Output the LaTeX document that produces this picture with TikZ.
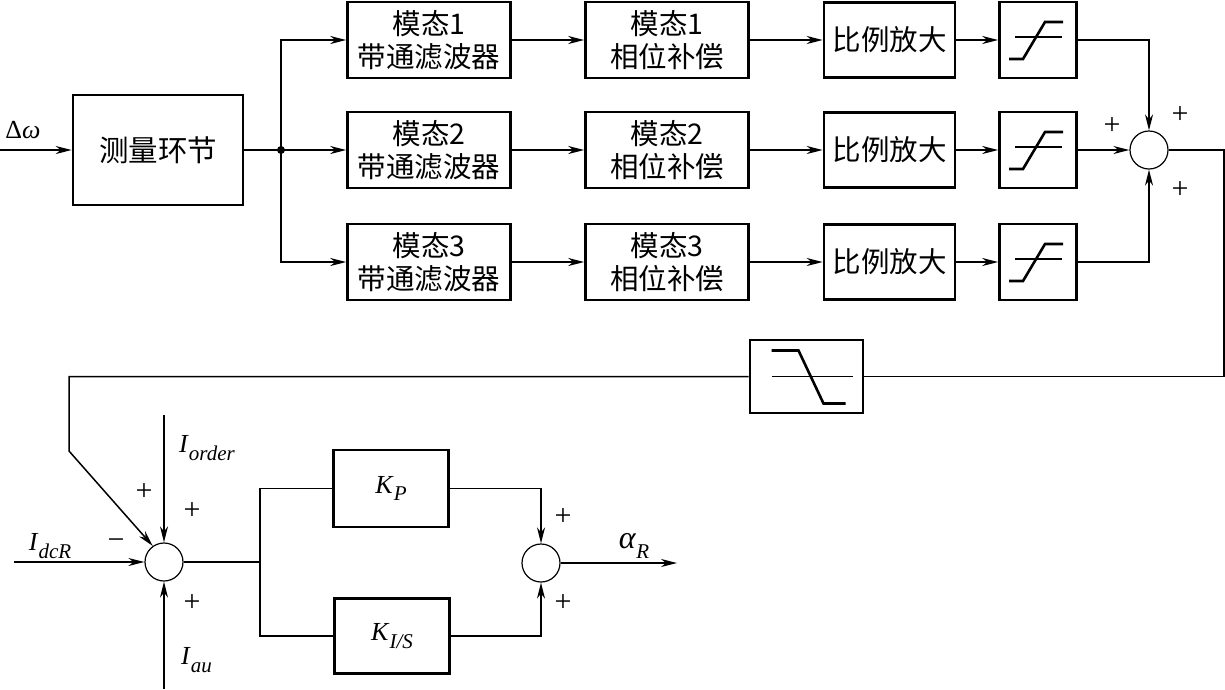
\documentclass[tikz,border=0pt]{standalone}
\usepackage{fontspec}
\newfontfamily\cjk{Noto Sans CJK SC}
\newfontfamily\tms{Liberation Serif}
\usetikzlibrary{arrows.meta,calc}
\newcommand{\vlab}[2]{\textit{#1}\raisebox{-0.3em}{\fontsize{21}{21}\selectfont\textit{#2}}}
\begin{document}
\begin{tikzpicture}[x=1pt,y=-1pt,
  blk/.style={draw,line width=2.6pt,inner sep=0pt,align=center,font=\cjk\fontsize{28.5}{37}\selectfont},
  sumc/.style={draw,circle,line width=1.2pt,minimum size=38pt,inner sep=0pt},
  conn/.style={line width=1.5pt},
  arr/.style={conn,-{Stealth[length=16pt,width=8pt,inset=5pt]}},
  sgn/.style={font=\tms\fontsize{30}{30}\selectfont,inner sep=0pt},
  lbl/.style={font=\tms\fontsize{26}{26}\selectfont,inner sep=0pt},
  icothick/.style={line width=2.6pt},
  icothin/.style={line width=1.2pt}]
\useasboundingbox (0,0) rectangle (1225,689);

% measurement
\node[blk,minimum width=170pt,minimum height=110pt,font=\cjk\fontsize{29.5}{30}\selectfont] (meas) at (158,150) {测量环节};
\coordinate (in) at (0,150);
\draw[arr] (in) -- (meas.west);
\node[lbl] (dw) at (23,130) {Δ\textit{ω}};
\coordinate (j) at (281,150);
\draw[conn] (meas.east) -- (j);
\fill (j) circle (4pt);

% rows
\foreach \r/\y in {1/40,2/150,3/262}{
  \node[blk,minimum width=163pt,minimum height=76pt] (bp\r) at (429,\y) {模态\r\\[-4pt]带通滤波器};
  \node[blk,minimum width=163pt,minimum height=76pt] (ph\r) at (667,\y) {模态\r\\[-4pt]相位补偿};
  \node[blk,minimum width=131pt,minimum height=75pt] (g\r) at (889.5,\y) {比例放大};
  \node[blk,minimum width=77pt,minimum height=76pt] (lim\r) at (1038,\y) {};
  \draw[icothin] ($(lim\r.center)+(-23,-3)$) -- ($(lim\r.center)+(24,-3)$);
  \draw[icothick] ($(lim\r.center)+(-29,19)$) -- ($(lim\r.center)+(-15,19)$) -- ($(lim\r.center)+(7,-18)$) -- ($(lim\r.center)+(25,-18)$);
  \draw[arr] (bp\r.east) -- (ph\r.west);
  \draw[arr] (ph\r.east) -- (g\r.west);
  \draw[arr] (g\r.east) -- (lim\r.west);
}
\draw[arr] (j) |- (bp1.west);
\draw[arr] (j) -- (bp2.west);
\draw[arr] (j) |- (bp3.west);

% sum 1
\node[sumc] (s1) at (1149,150) {};
\draw[arr] (lim1.east) -| (s1.north);
\draw[arr] (lim2.east) -- (s1.west);
\draw[arr] (lim3.east) -| (s1.south);
\node[sgn] (p1a) at (1112,126) {+};
\node[sgn] (p1b) at (1180,115) {+};
\node[sgn] (p1c) at (1180,190) {+};

% filter
\node[blk,minimum width=113pt,minimum height=73pt] (filt) at (806.5,376.5) {};
\draw[icothin] ($(filt.center)+(-35,0)$) -- ($(filt.center)+(46,0)$);
\draw[icothick] ($(filt.center)+(-35,-26)$) -- ($(filt.center)+(-8,-26)$) -- ($(filt.center)+(17,27)$) -- ($(filt.center)+(39,27)$);
\coordinate (fr1) at (1224,150);
\coordinate (fr2) at (1224,376.5);
\draw[conn] (s1.east) -- (fr1) -- (fr2) -- (filt.east);
\coordinate (fl1) at (69,376.5);
\coordinate (fl2) at (69,451);

% sum 2
\node[sumc] (s2) at (164,562) {};
\draw[arr] (filt.west) -- (fl1) -- (fl2) -- (s2.125);
\coordinate (ord) at (164,415);
\coordinate (idc) at (14,562);
\coordinate (iau) at (164,689);
\draw[arr] (ord) -- (s2.north);
\draw[arr] (idc) -- (s2.west);
\draw[arr] (iau) -- (s2.south);
\node[lbl,anchor=west] (lo) at (179,448) {\vlab{I}{order}};
\node[lbl] (ld) at (50,546) {\vlab{I}{dcR}};
\node[lbl,anchor=west] (la) at (181,660) {\vlab{I}{au}};
\node[sgn] (m2) at (116,544) {−};
\node[sgn] (p2a) at (144,492) {+};
\node[sgn] (p2b) at (192,511) {+};
\node[sgn] (p2c) at (192,603) {+};

% PI branches
\coordinate (sp) at (260,562);
\node[blk,minimum width=115pt,minimum height=77pt,font=\tms\fontsize{26}{26}\selectfont] (kp) at (391,488.5) {\vlab{K}{P}};
\node[blk,minimum width=115pt,minimum height=75pt,font=\tms\fontsize{26}{26}\selectfont] (ki) at (392,636) {\vlab{K}{I/S}};
\draw[conn] (s2.east) -- (sp);
\draw[conn] (sp) |- (kp.west);
\draw[conn] (sp) |- (ki.west);
\node[sumc] (s3) at (541,563) {};
\draw[arr] (kp.east) -| (s3.north);
\draw[arr] (ki.east) -| (s3.south);
\coordinate (out) at (677,563);
\draw[arr] (s3.east) -- (out);
\node[lbl,font=\tms\fontsize{32}{32}\selectfont] (al) at (634,546) {\vlab{α}{R}};
\node[sgn] (p3a) at (563,517) {+};
\node[sgn] (p3b) at (563,603) {+};
\end{tikzpicture}
\end{document}
